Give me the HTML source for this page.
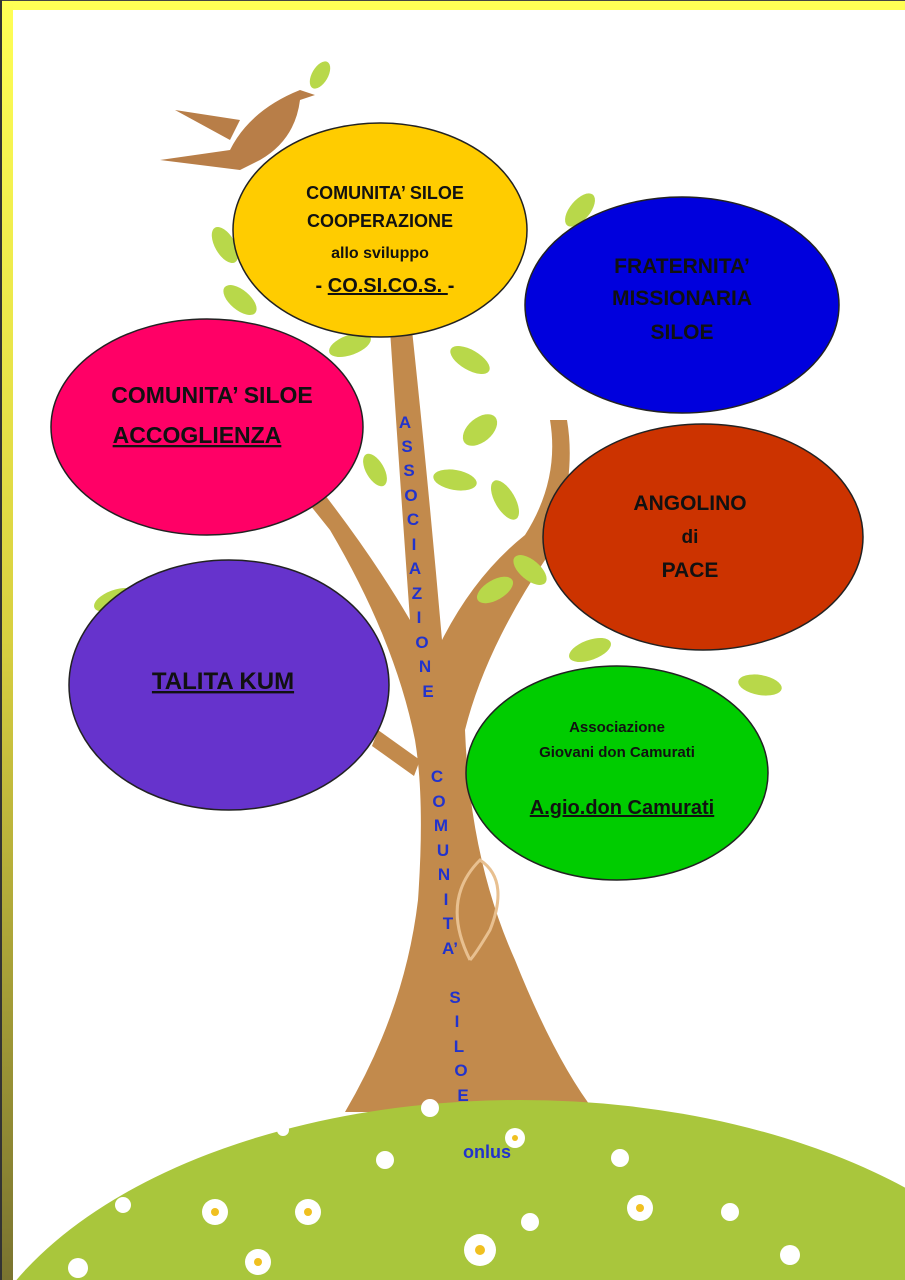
<!DOCTYPE html>
<html><head><meta charset="utf-8"><style>
html,body{margin:0;width:905px;height:1280px;overflow:hidden;background:#fff}
svg{display:block}
text{font-family:"Liberation Sans",sans-serif;font-weight:bold}
</style></head><body>
<svg width="905" height="1280" viewBox="0 0 905 1280">
<defs>
<linearGradient id="lb" x1="0" y1="0" x2="0" y2="1">
<stop offset="0" stop-color="#ffff55"/><stop offset="0.5" stop-color="#d8d040"/><stop offset="1" stop-color="#7a7430"/>
</linearGradient>
</defs>
<rect width="905" height="1280" fill="#fff"/>
<rect x="0" y="0" width="905" height="10" fill="#ffff55"/>
<rect x="0" y="0" width="13" height="1280" fill="url(#lb)"/>
<rect x="0" y="0" width="905" height="1" fill="#444"/>
<rect x="0" y="0" width="2" height="1280" fill="#333"/>
<!-- trunk -->
<path d="M345 1112 Q405 1010 418 900 Q425 800 415 740 Q395 640 330 530 L310 505 L325 495 Q375 560 410 620 Q400 480 390 330 L412 330 Q428 480 442 640 Q475 575 525 535 Q560 480 550 420 L567 420 Q578 485 545 560 Q485 650 465 730 Q470 860 515 960 Q555 1060 595 1112 Z" fill="#c28a4c"/>
<path d="M378 730 L420 760 L414 776 L372 746 Z" fill="#c28a4c"/>
<path d="M470 960 Q440 900 480 860 Q510 880 490 930 Q475 955 470 960" fill="none" stroke="#e8c090" stroke-width="3"/>
<!-- hill -->
<ellipse cx="520" cy="1420" rx="560" ry="320" fill="#a9c63c"/>
<!-- leaves -->
<g fill="#b8d84a">
<ellipse cx="350" cy="345" rx="22" ry="10" transform="rotate(-20 350 345)"/>
<ellipse cx="470" cy="360" rx="22" ry="10" transform="rotate(30 470 360)"/>
<ellipse cx="480" cy="430" rx="20" ry="12" transform="rotate(-40 480 430)"/>
<ellipse cx="455" cy="480" rx="22" ry="10" transform="rotate(10 455 480)"/>
<ellipse cx="505" cy="500" rx="22" ry="10" transform="rotate(60 505 500)"/>
<ellipse cx="495" cy="590" rx="20" ry="10" transform="rotate(-30 495 590)"/>
<ellipse cx="530" cy="570" rx="20" ry="10" transform="rotate(40 530 570)"/>
<ellipse cx="590" cy="650" rx="22" ry="10" transform="rotate(-20 590 650)"/>
<ellipse cx="760" cy="685" rx="22" ry="10" transform="rotate(10 760 685)"/>
<ellipse cx="320" cy="600" rx="22" ry="10" transform="rotate(20 320 600)"/>
<ellipse cx="115" cy="600" rx="22" ry="10" transform="rotate(-20 115 600)"/>
<ellipse cx="225" cy="245" rx="20" ry="10" transform="rotate(60 225 245)"/>
<ellipse cx="240" cy="300" rx="20" ry="10" transform="rotate(40 240 300)"/>
<ellipse cx="580" cy="210" rx="20" ry="10" transform="rotate(-50 580 210)"/>
<ellipse cx="320" cy="75" rx="15" ry="8" transform="rotate(-60 320 75)"/>
<ellipse cx="375" cy="470" rx="18" ry="9" transform="rotate(60 375 470)"/>
</g>
<!-- bird -->
<path d="M160 160 L230 150 Q250 110 300 90 L315 95 L300 100 Q295 140 260 160 L240 170 Q200 165 160 160 Z M175 110 L240 120 L230 140 Z" fill="#b87e48"/>
<!-- flowers -->
<g fill="#fff">
<circle cx="430" cy="1108" r="9"/><circle cx="515" cy="1138" r="10"/><circle cx="385" cy="1160" r="9"/><circle cx="283" cy="1130" r="6"/>
<circle cx="215" cy="1212" r="13"/><circle cx="308" cy="1212" r="13"/><circle cx="123" cy="1205" r="8"/><circle cx="258" cy="1262" r="13"/>
<circle cx="480" cy="1250" r="16"/><circle cx="530" cy="1222" r="9"/><circle cx="620" cy="1158" r="9"/><circle cx="640" cy="1208" r="13"/>
<circle cx="730" cy="1212" r="9"/><circle cx="790" cy="1255" r="10"/><circle cx="78" cy="1268" r="10"/>
</g>
<g fill="#f0c020">
<circle cx="215" cy="1212" r="4"/><circle cx="308" cy="1212" r="4"/><circle cx="258" cy="1262" r="4"/><circle cx="480" cy="1250" r="5"/><circle cx="640" cy="1208" r="4"/><circle cx="515" cy="1138" r="3"/>
</g>
<!-- ellipses -->
<g stroke="#222" stroke-width="1.5">
<ellipse cx="380" cy="230" rx="147" ry="107" fill="#ffcc00"/>
<ellipse cx="682" cy="305" rx="157" ry="108" fill="#0000dd"/>
<ellipse cx="207" cy="427" rx="156" ry="108" fill="#ff0066"/>
<ellipse cx="703" cy="537" rx="160" ry="113" fill="#cc3300"/>
<ellipse cx="229" cy="685" rx="160" ry="125" fill="#6633cc"/>
<ellipse cx="617" cy="773" rx="151" ry="107" fill="#00cc00"/>
</g>
<g fill="#111" text-anchor="middle">
<text x="385" y="199" font-size="18">COMUNITA’ SILOE</text>
<text x="380" y="227" font-size="18">COOPERAZIONE</text>
<text x="380" y="258" font-size="16">allo sviluppo</text>
<text x="385" y="292" font-size="20" font-weight="normal">-  <tspan text-decoration="underline"> CO.SI.CO.S. </tspan> -</text>
<text x="682" y="273" font-size="21">FRATERNITA’</text>
<text x="682" y="305" font-size="21">MISSIONARIA</text>
<text x="682" y="339" font-size="21">SILOE</text>
<text x="212" y="403" font-size="23">COMUNITA’ SILOE</text>
<text x="197" y="443" font-size="23" text-decoration="underline">ACCOGLIENZA</text>
<text x="690" y="510" font-size="21">ANGOLINO</text>
<text x="690" y="543" font-size="19" font-weight="normal">di</text>
<text x="690" y="577" font-size="21" font-weight="normal">PACE</text>
<text x="223" y="689" font-size="24" text-decoration="underline">TALITA KUM</text>
<text x="617" y="732" font-size="15" font-weight="normal">Associazione</text>
<text x="617" y="757" font-size="15" font-weight="normal">Giovani don Camurati</text>
<text x="622" y="814" font-size="20" font-weight="normal" text-decoration="underline">A.gio.don Camurati</text>
</g>
<g fill="#2233cc" font-size="17" text-anchor="middle">
<text x="405" y="428">A</text><text x="407" y="452">S</text><text x="409" y="476">S</text><text x="411" y="501">O</text><text x="413" y="525">C</text><text x="414" y="550">I</text><text x="415" y="574">A</text><text x="417" y="599">Z</text><text x="419" y="623">I</text><text x="422" y="648">O</text><text x="425" y="672">N</text><text x="428" y="697">E</text>
<text x="437" y="782">C</text><text x="439" y="807">O</text><text x="441" y="831">M</text><text x="443" y="856">U</text><text x="444" y="880">N</text><text x="446" y="905">I</text><text x="448" y="929">T</text><text x="450" y="954">A’</text>
<text x="455" y="1003">S</text><text x="457" y="1027">I</text><text x="459" y="1052">L</text><text x="461" y="1076">O</text><text x="463" y="1101">E</text>
<text x="487" y="1158" font-size="18">onlus</text>
</g>
</svg>
</body></html>
